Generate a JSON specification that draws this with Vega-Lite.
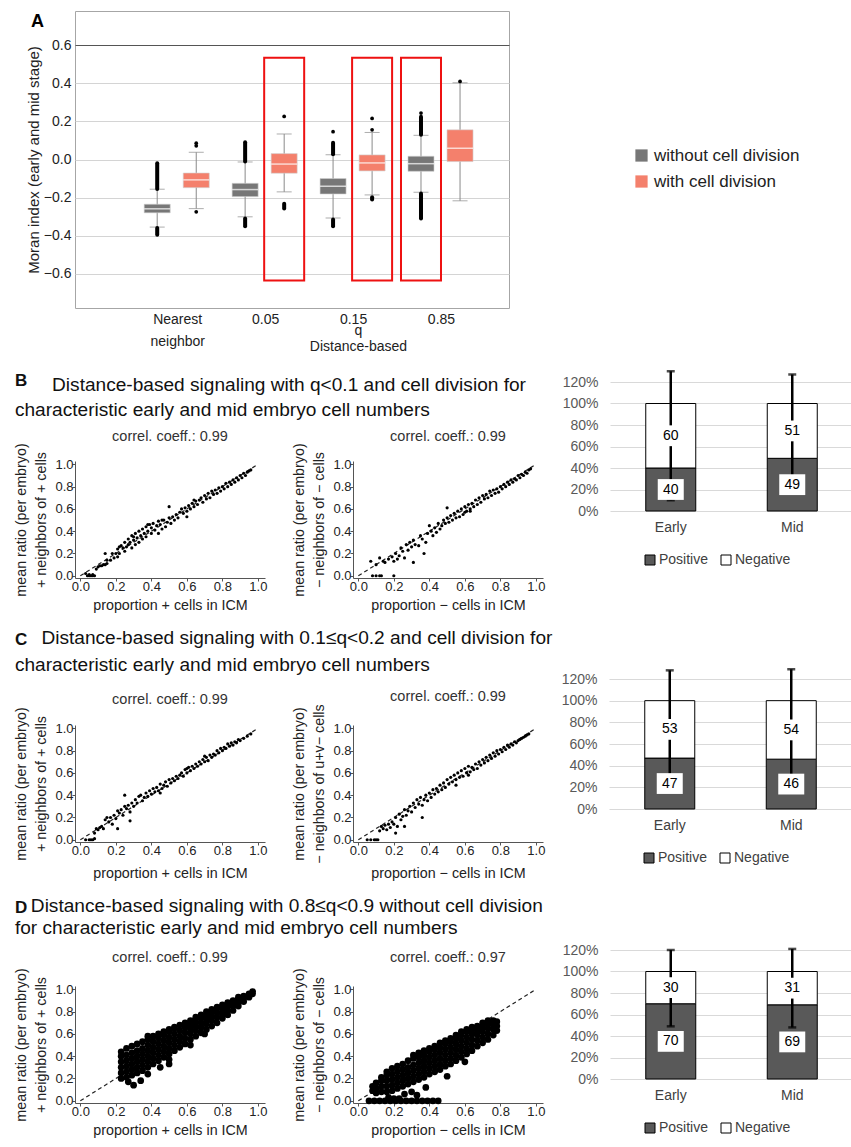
{
"$schema":"https://vega.github.io/schema/vega-lite/v6.json",
"background":"white",
"padding":{"left":14,"top":10,"right":0,"bottom":0},
"columns":1,"align":"none","spacing":16,
"resolve":{"scale":{"fill":"independent"},"legend":{"fill":"independent"}},
"config":{"font":"Liberation Sans","view":{"stroke":null},
 "axis":{"labelFontSize":13,"titleFontSize":14.3,"titleFontWeight":"normal","grid":false,"tickSize":3,"labelPadding":-1,"labelColor":"#222","titleColor":"#222","domainColor":"#555","tickColor":"#555","labelFlush":false,"labelOverlap":false},
 "title":{"fontWeight":"normal","color":"#111"}},
"datasets":{
"boxes":[
{"x":-0.222,"series":"without cell division","wlo":-0.355,"q1":-0.28,"med":-0.259,"q3":-0.235,"whi":-0.156},
{"x":0.222,"series":"with cell division","wlo":-0.258,"q1":-0.148,"med":-0.107,"q3":-0.071,"whi":0.038},
{"x":0.778,"series":"without cell division","wlo":-0.301,"q1":-0.195,"med":-0.158,"q3":-0.125,"whi":-0.013},
{"x":1.222,"series":"with cell division","wlo":-0.17,"q1":-0.072,"med":-0.024,"q3":0.031,"whi":0.134},
{"x":1.778,"series":"without cell division","wlo":-0.307,"q1":-0.181,"med":-0.141,"q3":-0.1,"whi":0.025},
{"x":2.222,"series":"with cell division","wlo":-0.186,"q1":-0.06,"med":-0.018,"q3":0.024,"whi":0.142},
{"x":2.778,"series":"without cell division","wlo":-0.172,"q1":-0.062,"med":-0.022,"q3":0.017,"whi":0.127},
{"x":3.222,"series":"with cell division","wlo":-0.217,"q1":-0.011,"med":0.059,"q3":0.156,"whi":0.403}],
"outr":[
{"x":-0.222,"lo":-0.155,"hi":-0.02},{"x":-0.222,"lo":-0.395,"hi":-0.36},
{"x":0.778,"lo":-0.01,"hi":0.09},{"x":0.778,"lo":-0.35,"hi":-0.31},
{"x":1.222,"lo":-0.258,"hi":-0.232},
{"x":1.778,"lo":0.028,"hi":0.088},{"x":1.778,"lo":-0.35,"hi":-0.315},
{"x":2.222,"lo":-0.21,"hi":-0.198},
{"x":2.778,"lo":0.13,"hi":0.225},{"x":2.778,"lo":-0.31,"hi":-0.178}],
"outp":[
{"x":0.222,"y":0.086},{"x":0.222,"y":0.072},{"x":0.222,"y":-0.275},{"x":1.222,"y":0.226},{"x":1.778,"y":0.146},
{"x":2.222,"y":0.216},{"x":2.222,"y":0.156},{"x":2.778,"y":0.244},{"x":3.222,"y":0.41}],
"hl":[{"x":1.222,"lo":-0.635,"hi":0.535},{"x":2.222,"lo":-0.635,"hi":0.535},{"x":2.778,"lo":-0.635,"hi":0.535}],
"b1":[{"x":0.04,"y":0},{"x":0.05,"y":0},{"x":0.06,"y":0},{"x":0.07,"y":0},{"x":0.08,"y":0},{"x":0.05,"y":0.01},{"x":0.07,"y":0.01},{"x":0.03,"y":0.02},
{"x":0.09,"y":0.06},{"x":0.1,"y":0.08},{"x":0.11,"y":0.09},{"x":0.12,"y":0.09},{"x":0.13,"y":0.1},{"x":0.14,"y":0.1},{"x":0.15,"y":0.11},{"x":0.15,"y":0.14},{"x":0.14,"y":0.2},{"x":0.17,"y":0.14},{"x":0.18,"y":0.2},{"x":0.19,"y":0.16},{"x":0.2,"y":0.2},{"x":0.21,"y":0.17},{"x":0.21,"y":0.24},{"x":0.22,"y":0.2},{"x":0.23,"y":0.27},{"x":0.24,"y":0.25},{"x":0.25,"y":0.22},{"x":0.25,"y":0.3},{"x":0.26,"y":0.26},{"x":0.27,"y":0.33},{"x":0.27,"y":0.28},{"x":0.28,"y":0.3},{"x":0.29,"y":0.25},{"x":0.29,"y":0.36},{"x":0.3,"y":0.32},{"x":0.31,"y":0.28},{"x":0.31,"y":0.38},{"x":0.32,"y":0.34},{"x":0.33,"y":0.3},{"x":0.33,"y":0.4},{"x":0.34,"y":0.36},{"x":0.35,"y":0.42},{"x":0.35,"y":0.33},{"x":0.36,"y":0.38},{"x":0.37,"y":0.44},{"x":0.37,"y":0.35},{"x":0.38,"y":0.4},{"x":0.39,"y":0.46},{"x":0.4,"y":0.38},{"x":0.4,"y":0.43},{"x":0.41,"y":0.47},{"x":0.42,"y":0.41},{"x":0.43,"y":0.45},{"x":0.44,"y":0.38},{"x":0.44,"y":0.49},{"x":0.45,"y":0.46},{"x":0.46,"y":0.42},{"x":0.47,"y":0.5},{"x":0.48,"y":0.44},{"x":0.49,"y":0.48},{"x":0.5,"y":0.52},{"x":0.5,"y":0.62},{"x":0.51,"y":0.47},{"x":0.52,"y":0.53},{"x":0.53,"y":0.5},{"x":0.54,"y":0.55},{"x":0.55,"y":0.52},{"x":0.56,"y":0.57},{"x":0.57,"y":0.6},{"x":0.58,"y":0.56},{"x":0.59,"y":0.61},{"x":0.6,"y":0.58},{"x":0.61,"y":0.63},{"x":0.62,"y":0.6},{"x":0.63,"y":0.65},{"x":0.64,"y":0.62},{"x":0.65,"y":0.67},{"x":0.66,"y":0.64},{"x":0.67,"y":0.68},{"x":0.68,"y":0.7},{"x":0.69,"y":0.66},{"x":0.7,"y":0.72},{"x":0.71,"y":0.69},{"x":0.72,"y":0.74},{"x":0.73,"y":0.7},{"x":0.74,"y":0.76},{"x":0.75,"y":0.73},{"x":0.76,"y":0.77},{"x":0.77,"y":0.74},{"x":0.78,"y":0.79},{"x":0.79,"y":0.76},{"x":0.8,"y":0.8},{"x":0.81,"y":0.78},{"x":0.82,"y":0.83},{"x":0.83,"y":0.8},{"x":0.84,"y":0.84},{"x":0.85,"y":0.82},{"x":0.86,"y":0.86},{"x":0.87,"y":0.84},{"x":0.88,"y":0.88},{"x":0.89,"y":0.86},{"x":0.9,"y":0.9},{"x":0.91,"y":0.88},{"x":0.92,"y":0.92},{"x":0.93,"y":0.9},{"x":0.94,"y":0.93},{"x":0.95,"y":0.94},{"x":0.96,"y":0.95},{"x":0.6,"y":0.53},{"x":0.64,"y":0.68},{"x":0.46,"y":0.5},{"x":0.38,"y":0.46},{"x":0.3,"y":0.35},{"x":0.22,"y":0.26}],
"b2":[{"x":0.08,"y":0},{"x":0.1,"y":0},{"x":0.12,"y":0},{"x":0.13,"y":0},{"x":0.2,"y":0},{"x":0.07,"y":0.13},{"x":0.1,"y":0.1},{"x":0.12,"y":0.16},{"x":0.14,"y":0.13},{"x":0.15,"y":0.12},{"x":0.17,"y":0.15},{"x":0.19,"y":0.17},{"x":0.2,"y":0.13},{"x":0.21,"y":0.2},{"x":0.22,"y":0.15},{"x":0.23,"y":0.18},{"x":0.24,"y":0.25},{"x":0.25,"y":0.22},{"x":0.26,"y":0.16},{"x":0.27,"y":0.28},{"x":0.28,"y":0.23},{"x":0.29,"y":0.3},{"x":0.3,"y":0.26},{"x":0.31,"y":0.12},{"x":0.31,"y":0.32},{"x":0.32,"y":0.28},{"x":0.34,"y":0.27},{"x":0.35,"y":0.36},{"x":0.36,"y":0.33},{"x":0.37,"y":0.2},{"x":0.38,"y":0.3},{"x":0.39,"y":0.38},{"x":0.4,"y":0.45},{"x":0.41,"y":0.4},{"x":0.42,"y":0.36},{"x":0.43,"y":0.43},{"x":0.44,"y":0.39},{"x":0.45,"y":0.47},{"x":0.46,"y":0.42},{"x":0.47,"y":0.45},{"x":0.48,"y":0.5},{"x":0.49,"y":0.47},{"x":0.5,"y":0.61},{"x":0.5,"y":0.52},{"x":0.51,"y":0.48},{"x":0.52,"y":0.54},{"x":0.53,"y":0.5},{"x":0.54,"y":0.56},{"x":0.55,"y":0.52},{"x":0.56,"y":0.58},{"x":0.57,"y":0.53},{"x":0.58,"y":0.6},{"x":0.59,"y":0.55},{"x":0.6,"y":0.62},{"x":0.61,"y":0.58},{"x":0.62,"y":0.64},{"x":0.63,"y":0.6},{"x":0.64,"y":0.65},{"x":0.65,"y":0.62},{"x":0.66,"y":0.68},{"x":0.67,"y":0.64},{"x":0.68,"y":0.7},{"x":0.69,"y":0.66},{"x":0.7,"y":0.72},{"x":0.71,"y":0.69},{"x":0.72,"y":0.73},{"x":0.73,"y":0.7},{"x":0.74,"y":0.76},{"x":0.75,"y":0.72},{"x":0.76,"y":0.77},{"x":0.77,"y":0.74},{"x":0.78,"y":0.78},{"x":0.79,"y":0.75},{"x":0.8,"y":0.8},{"x":0.81,"y":0.78},{"x":0.82,"y":0.82},{"x":0.83,"y":0.8},{"x":0.84,"y":0.84},{"x":0.85,"y":0.82},{"x":0.86,"y":0.86},{"x":0.87,"y":0.84},{"x":0.88,"y":0.87},{"x":0.89,"y":0.86},{"x":0.9,"y":0.9},{"x":0.91,"y":0.88},{"x":0.92,"y":0.91},{"x":0.93,"y":0.9},{"x":0.94,"y":0.93},{"x":0.95,"y":0.92},{"x":0.96,"y":0.95},{"x":0.97,"y":0.96},{"x":0.6,"y":0.57},{"x":0.63,"y":0.58}],
"c1":[{"x":0.03,"y":0},{"x":0.05,"y":0},{"x":0.06,"y":0},{"x":0.07,"y":0},{"x":0.08,"y":0.01},{"x":0.08,"y":0.06},{"x":0.09,"y":0.1},{"x":0.1,"y":0.09},{"x":0.11,"y":0.11},{"x":0.12,"y":0.12},{"x":0.13,"y":0.1},{"x":0.14,"y":0.18},{"x":0.15,"y":0.2},{"x":0.16,"y":0.16},{"x":0.17,"y":0.2},{"x":0.18,"y":0.14},{"x":0.19,"y":0.22},{"x":0.2,"y":0.19},{"x":0.21,"y":0.1},{"x":0.21,"y":0.26},{"x":0.22,"y":0.24},{"x":0.23,"y":0.27},{"x":0.24,"y":0.22},{"x":0.25,"y":0.3},{"x":0.25,"y":0.4},{"x":0.26,"y":0.28},{"x":0.27,"y":0.31},{"x":0.28,"y":0.25},{"x":0.28,"y":0.17},{"x":0.29,"y":0.33},{"x":0.3,"y":0.3},{"x":0.31,"y":0.36},{"x":0.32,"y":0.33},{"x":0.33,"y":0.39},{"x":0.34,"y":0.4},{"x":0.35,"y":0.35},{"x":0.36,"y":0.38},{"x":0.37,"y":0.42},{"x":0.38,"y":0.39},{"x":0.39,"y":0.44},{"x":0.4,"y":0.41},{"x":0.41,"y":0.46},{"x":0.42,"y":0.43},{"x":0.43,"y":0.47},{"x":0.44,"y":0.44},{"x":0.45,"y":0.5},{"x":0.46,"y":0.46},{"x":0.47,"y":0.49},{"x":0.48,"y":0.52},{"x":0.49,"y":0.48},{"x":0.5,"y":0.54},{"x":0.51,"y":0.51},{"x":0.52,"y":0.55},{"x":0.53,"y":0.53},{"x":0.54,"y":0.57},{"x":0.55,"y":0.55},{"x":0.56,"y":0.58},{"x":0.57,"y":0.6},{"x":0.58,"y":0.57},{"x":0.59,"y":0.63},{"x":0.6,"y":0.6},{"x":0.61,"y":0.65},{"x":0.62,"y":0.62},{"x":0.63,"y":0.66},{"x":0.64,"y":0.64},{"x":0.65,"y":0.68},{"x":0.66,"y":0.66},{"x":0.67,"y":0.7},{"x":0.68,"y":0.68},{"x":0.69,"y":0.72},{"x":0.7,"y":0.7},{"x":0.71,"y":0.74},{"x":0.72,"y":0.71},{"x":0.73,"y":0.76},{"x":0.74,"y":0.74},{"x":0.75,"y":0.77},{"x":0.76,"y":0.76},{"x":0.77,"y":0.8},{"x":0.78,"y":0.78},{"x":0.79,"y":0.82},{"x":0.8,"y":0.8},{"x":0.81,"y":0.83},{"x":0.82,"y":0.82},{"x":0.83,"y":0.86},{"x":0.84,"y":0.84},{"x":0.85,"y":0.87},{"x":0.86,"y":0.85},{"x":0.87,"y":0.88},{"x":0.88,"y":0.87},{"x":0.89,"y":0.9},{"x":0.9,"y":0.89},{"x":0.92,"y":0.91},{"x":0.94,"y":0.93},{"x":0.96,"y":0.95},{"x":0.45,"y":0.42},{"x":0.6,"y":0.64},{"x":0.7,"y":0.75}],
"c2":[{"x":0.05,"y":0},{"x":0.07,"y":0},{"x":0.09,"y":0},{"x":0.1,"y":0},{"x":0.11,"y":0},{"x":0.12,"y":0.08},{"x":0.13,"y":0.12},{"x":0.14,"y":0.1},{"x":0.15,"y":0.13},{"x":0.16,"y":0.09},{"x":0.17,"y":0.14},{"x":0.18,"y":0.11},{"x":0.19,"y":0.16},{"x":0.2,"y":0.14},{"x":0.21,"y":0.06},{"x":0.21,"y":0.2},{"x":0.22,"y":0.12},{"x":0.23,"y":0.23},{"x":0.24,"y":0.18},{"x":0.25,"y":0.21},{"x":0.26,"y":0.12},{"x":0.26,"y":0.27},{"x":0.27,"y":0.22},{"x":0.28,"y":0.26},{"x":0.29,"y":0.3},{"x":0.3,"y":0.25},{"x":0.31,"y":0.33},{"x":0.32,"y":0.29},{"x":0.33,"y":0.36},{"x":0.34,"y":0.32},{"x":0.35,"y":0.38},{"x":0.36,"y":0.31},{"x":0.36,"y":0.2},{"x":0.37,"y":0.36},{"x":0.38,"y":0.4},{"x":0.39,"y":0.35},{"x":0.4,"y":0.42},{"x":0.41,"y":0.38},{"x":0.42,"y":0.45},{"x":0.43,"y":0.41},{"x":0.44,"y":0.46},{"x":0.45,"y":0.43},{"x":0.46,"y":0.49},{"x":0.47,"y":0.45},{"x":0.48,"y":0.51},{"x":0.49,"y":0.47},{"x":0.5,"y":0.54},{"x":0.51,"y":0.5},{"x":0.52,"y":0.56},{"x":0.53,"y":0.52},{"x":0.54,"y":0.58},{"x":0.55,"y":0.54},{"x":0.56,"y":0.6},{"x":0.57,"y":0.56},{"x":0.58,"y":0.62},{"x":0.59,"y":0.57},{"x":0.6,"y":0.64},{"x":0.61,"y":0.6},{"x":0.62,"y":0.66},{"x":0.63,"y":0.61},{"x":0.64,"y":0.65},{"x":0.65,"y":0.63},{"x":0.66,"y":0.68},{"x":0.67,"y":0.64},{"x":0.68,"y":0.7},{"x":0.69,"y":0.67},{"x":0.7,"y":0.72},{"x":0.71,"y":0.69},{"x":0.72,"y":0.74},{"x":0.73,"y":0.71},{"x":0.74,"y":0.76},{"x":0.75,"y":0.73},{"x":0.76,"y":0.78},{"x":0.77,"y":0.75},{"x":0.78,"y":0.8},{"x":0.79,"y":0.77},{"x":0.8,"y":0.81},{"x":0.81,"y":0.79},{"x":0.82,"y":0.83},{"x":0.83,"y":0.81},{"x":0.84,"y":0.85},{"x":0.85,"y":0.83},{"x":0.86,"y":0.86},{"x":0.87,"y":0.85},{"x":0.88,"y":0.88},{"x":0.89,"y":0.87},{"x":0.9,"y":0.89},{"x":0.91,"y":0.9},{"x":0.92,"y":0.91},{"x":0.93,"y":0.92},{"x":0.94,"y":0.93},{"x":0.95,"y":0.94},{"x":0.96,"y":0.95},{"x":0.55,"y":0.49},{"x":0.62,"y":0.58}],
"d1":[{"x":0.23,"y":0.2},{"x":0.23,"y":0.25},{"x":0.23,"y":0.3},{"x":0.23,"y":0.35},{"x":0.23,"y":0.4},{"x":0.23,"y":0.44},
{"x":0.26,"y":0.21},{"x":0.26,"y":0.26},{"x":0.26,"y":0.31},{"x":0.26,"y":0.36},{"x":0.26,"y":0.41},{"x":0.26,"y":0.47},
{"x":0.29,"y":0.23},{"x":0.29,"y":0.28},{"x":0.29,"y":0.33},{"x":0.29,"y":0.38},{"x":0.29,"y":0.43},{"x":0.29,"y":0.49},
{"x":0.32,"y":0.25},{"x":0.32,"y":0.3},{"x":0.32,"y":0.35},{"x":0.32,"y":0.4},{"x":0.32,"y":0.45},{"x":0.32,"y":0.51},
{"x":0.35,"y":0.27},{"x":0.35,"y":0.32},{"x":0.35,"y":0.37},{"x":0.35,"y":0.42},{"x":0.35,"y":0.47},{"x":0.35,"y":0.53},
{"x":0.38,"y":0.3},{"x":0.38,"y":0.35},{"x":0.38,"y":0.4},{"x":0.38,"y":0.45},{"x":0.38,"y":0.5},{"x":0.38,"y":0.55},{"x":0.38,"y":0.58},
{"x":0.41,"y":0.33},{"x":0.41,"y":0.38},{"x":0.41,"y":0.43},{"x":0.41,"y":0.48},{"x":0.41,"y":0.53},{"x":0.41,"y":0.58},
{"x":0.44,"y":0.36},{"x":0.44,"y":0.41},{"x":0.44,"y":0.46},{"x":0.44,"y":0.51},{"x":0.44,"y":0.56},{"x":0.44,"y":0.6},
{"x":0.47,"y":0.39},{"x":0.47,"y":0.44},{"x":0.47,"y":0.49},{"x":0.47,"y":0.54},{"x":0.47,"y":0.59},{"x":0.47,"y":0.62},
{"x":0.5,"y":0.42},{"x":0.5,"y":0.47},{"x":0.5,"y":0.52},{"x":0.5,"y":0.57},{"x":0.5,"y":0.62},{"x":0.5,"y":0.64},
{"x":0.53,"y":0.45},{"x":0.53,"y":0.5},{"x":0.53,"y":0.55},{"x":0.53,"y":0.6},{"x":0.53,"y":0.65},{"x":0.53,"y":0.66},
{"x":0.56,"y":0.48},{"x":0.56,"y":0.53},{"x":0.56,"y":0.58},{"x":0.56,"y":0.63},{"x":0.56,"y":0.68},
{"x":0.59,"y":0.51},{"x":0.59,"y":0.56},{"x":0.59,"y":0.61},{"x":0.59,"y":0.66},{"x":0.59,"y":0.7},
{"x":0.62,"y":0.55},{"x":0.62,"y":0.6},{"x":0.62,"y":0.64},{"x":0.62,"y":0.68},{"x":0.62,"y":0.72},
{"x":0.65,"y":0.58},{"x":0.65,"y":0.63},{"x":0.65,"y":0.67},{"x":0.65,"y":0.71},{"x":0.65,"y":0.75},
{"x":0.68,"y":0.61},{"x":0.68,"y":0.66},{"x":0.68,"y":0.7},{"x":0.68,"y":0.74},{"x":0.68,"y":0.77},
{"x":0.71,"y":0.64},{"x":0.71,"y":0.69},{"x":0.71,"y":0.73},{"x":0.71,"y":0.77},{"x":0.71,"y":0.8},
{"x":0.74,"y":0.67},{"x":0.74,"y":0.72},{"x":0.74,"y":0.76},{"x":0.74,"y":0.8},{"x":0.74,"y":0.82},
{"x":0.77,"y":0.7},{"x":0.77,"y":0.75},{"x":0.77,"y":0.79},{"x":0.77,"y":0.83},{"x":0.77,"y":0.84},
{"x":0.8,"y":0.74},{"x":0.8,"y":0.78},{"x":0.8,"y":0.82},{"x":0.8,"y":0.86},
{"x":0.83,"y":0.77},{"x":0.83,"y":0.81},{"x":0.83,"y":0.85},{"x":0.83,"y":0.88},
{"x":0.86,"y":0.81},{"x":0.86,"y":0.85},{"x":0.86,"y":0.88},{"x":0.86,"y":0.9},
{"x":0.89,"y":0.85},{"x":0.89,"y":0.88},{"x":0.89,"y":0.91},{"x":0.89,"y":0.93},
{"x":0.92,"y":0.89},{"x":0.92,"y":0.92},{"x":0.92,"y":0.94},
{"x":0.95,"y":0.93},{"x":0.95,"y":0.95},{"x":0.95,"y":0.96},
{"x":0.97,"y":0.96},{"x":0.97,"y":0.98},
{"x":0.27,"y":0.17},{"x":0.3,"y":0.14},{"x":0.34,"y":0.18},{"x":0.38,"y":0.24},{"x":0.45,"y":0.3},{"x":0.5,"y":0.33},{"x":0.5,"y":0.37},{"x":0.62,"y":0.5},{"x":0.7,"y":0.6}],
"d2":[{"x":0.08,"y":0.09},{"x":0.08,"y":0.13},
{"x":0.1,"y":0.07},{"x":0.1,"y":0.11},{"x":0.1,"y":0.16},
{"x":0.13,"y":0.08},{"x":0.13,"y":0.13},{"x":0.13,"y":0.18},{"x":0.13,"y":0.21},
{"x":0.16,"y":0.08},{"x":0.16,"y":0.13},{"x":0.16,"y":0.18},{"x":0.16,"y":0.23},{"x":0.16,"y":0.26},
{"x":0.19,"y":0.09},{"x":0.19,"y":0.14},{"x":0.19,"y":0.19},{"x":0.19,"y":0.24},{"x":0.19,"y":0.29},
{"x":0.22,"y":0.11},{"x":0.22,"y":0.16},{"x":0.22,"y":0.21},{"x":0.22,"y":0.26},{"x":0.22,"y":0.31},
{"x":0.25,"y":0.13},{"x":0.25,"y":0.18},{"x":0.25,"y":0.23},{"x":0.25,"y":0.28},{"x":0.25,"y":0.33},
{"x":0.28,"y":0.15},{"x":0.28,"y":0.2},{"x":0.28,"y":0.25},{"x":0.28,"y":0.3},{"x":0.28,"y":0.36},
{"x":0.31,"y":0.17},{"x":0.31,"y":0.22},{"x":0.31,"y":0.27},{"x":0.31,"y":0.32},{"x":0.31,"y":0.38},{"x":0.31,"y":0.41},
{"x":0.34,"y":0.19},{"x":0.34,"y":0.24},{"x":0.34,"y":0.29},{"x":0.34,"y":0.34},{"x":0.34,"y":0.39},{"x":0.34,"y":0.43},
{"x":0.37,"y":0.21},{"x":0.37,"y":0.26},{"x":0.37,"y":0.31},{"x":0.37,"y":0.36},{"x":0.37,"y":0.41},{"x":0.37,"y":0.45},
{"x":0.4,"y":0.24},{"x":0.4,"y":0.29},{"x":0.4,"y":0.34},{"x":0.4,"y":0.39},{"x":0.4,"y":0.44},{"x":0.4,"y":0.47},
{"x":0.43,"y":0.26},{"x":0.43,"y":0.31},{"x":0.43,"y":0.36},{"x":0.43,"y":0.41},{"x":0.43,"y":0.46},{"x":0.43,"y":0.49},
{"x":0.46,"y":0.28},{"x":0.46,"y":0.33},{"x":0.46,"y":0.38},{"x":0.46,"y":0.43},{"x":0.46,"y":0.48},{"x":0.46,"y":0.52},
{"x":0.49,"y":0.31},{"x":0.49,"y":0.36},{"x":0.49,"y":0.41},{"x":0.49,"y":0.46},{"x":0.49,"y":0.51},{"x":0.49,"y":0.54},
{"x":0.52,"y":0.33},{"x":0.52,"y":0.38},{"x":0.52,"y":0.43},{"x":0.52,"y":0.48},{"x":0.52,"y":0.53},{"x":0.52,"y":0.56},
{"x":0.55,"y":0.36},{"x":0.55,"y":0.41},{"x":0.55,"y":0.46},{"x":0.55,"y":0.51},{"x":0.55,"y":0.56},{"x":0.55,"y":0.59},
{"x":0.58,"y":0.39},{"x":0.58,"y":0.44},{"x":0.58,"y":0.49},{"x":0.58,"y":0.54},{"x":0.58,"y":0.59},{"x":0.58,"y":0.62},
{"x":0.61,"y":0.42},{"x":0.61,"y":0.47},{"x":0.61,"y":0.52},{"x":0.61,"y":0.57},{"x":0.61,"y":0.62},{"x":0.61,"y":0.64},
{"x":0.64,"y":0.45},{"x":0.64,"y":0.5},{"x":0.64,"y":0.55},{"x":0.64,"y":0.6},{"x":0.64,"y":0.64},{"x":0.64,"y":0.66},
{"x":0.67,"y":0.49},{"x":0.67,"y":0.54},{"x":0.67,"y":0.59},{"x":0.67,"y":0.63},{"x":0.67,"y":0.67},
{"x":0.7,"y":0.52},{"x":0.7,"y":0.57},{"x":0.7,"y":0.62},{"x":0.7,"y":0.66},{"x":0.7,"y":0.7},
{"x":0.73,"y":0.55},{"x":0.73,"y":0.6},{"x":0.73,"y":0.65},{"x":0.73,"y":0.69},{"x":0.73,"y":0.72},
{"x":0.76,"y":0.59},{"x":0.76,"y":0.64},{"x":0.76,"y":0.68},{"x":0.76,"y":0.72},
{"x":0.78,"y":0.63},{"x":0.78,"y":0.67},{"x":0.78,"y":0.71},
{"x":0.06,"y":0},{"x":0.09,"y":0},{"x":0.12,"y":0},{"x":0.15,"y":0},{"x":0.18,"y":0},{"x":0.21,"y":0},{"x":0.24,"y":0},{"x":0.27,"y":0},{"x":0.3,"y":0},{"x":0.33,"y":0},{"x":0.36,"y":0},{"x":0.39,"y":0},{"x":0.42,"y":0},{"x":0.45,"y":0},
{"x":0.17,"y":0.03},{"x":0.2,"y":0.02},{"x":0.23,"y":0.02},{"x":0.26,"y":0.06},{"x":0.3,"y":0.08},{"x":0.33,"y":0.05},{"x":0.38,"y":0.12},{"x":0.5,"y":0.22},{"x":0.6,"y":0.35}],
"barB":[{"stage":"Early","cat":"Positive","value":40,"elo":10,"ehi":70},{"stage":"Early","cat":"Negative","value":60,"elo":70,"ehi":130},{"stage":"Mid","cat":"Positive","value":49,"elo":22,"ehi":76},{"stage":"Mid","cat":"Negative","value":51,"elo":73,"ehi":127}],
"barC":[{"stage":"Early","cat":"Positive","value":47,"elo":19,"ehi":75},{"stage":"Early","cat":"Negative","value":53,"elo":72,"ehi":128},{"stage":"Mid","cat":"Positive","value":46,"elo":17,"ehi":75},{"stage":"Mid","cat":"Negative","value":54,"elo":71,"ehi":129}],
"barD":[{"stage":"Early","cat":"Positive","value":70,"elo":49,"ehi":91},{"stage":"Early","cat":"Negative","value":30,"elo":80,"ehi":120},{"stage":"Mid","cat":"Positive","value":69,"elo":48,"ehi":90},{"stage":"Mid","cat":"Negative","value":31,"elo":79,"ehi":121}]
},
"concat":[
 {"width":434,"height":297,
  "view":{"stroke":"#a6a6a6"},
  "title":{"text":"A","fontSize":18,"fontWeight":"bold","anchor":"start","frame":"group","dx":-44,"offset":-20,"color":"black"},
  "encoding":{"x":{"field":"x","type":"quantitative","scale":{"domain":[-1.1,3.722],"nice":false,"zero":false},
    "axis":{"values":[-0.222,0.222,0.778,1.222,1.778,2.222,2.778,3.222],
     "labelExpr":"datum.value < 0 ? ['Nearest','neighbor'] : (datum.value > 0.7 && datum.value < 0.8) ? '0.05' : (datum.value > 1.7 && datum.value < 1.8) ? '0.15' : (datum.value > 2.7 && datum.value < 2.8) ? '0.85' : ''",
     "labelOffset":20,"labelFontSize":14,"labelLineHeight":22,"labelPadding":4,"ticks":false,"domain":false,"grid":false,
     "title":["q","Distance-based"],"titleFontSize":14,"titleLineHeight":16,"titleX":283,"titleY":15,"titleBaseline":"top"}}},
  "layer":[
   {"data":{"name":"hl"},"mark":{"type":"bar","orient":"vertical","size":40,"fill":"transparent","stroke":"#ee1111","strokeWidth":2},
    "encoding":{"y":{"field":"lo","type":"quantitative","scale":{"domain":[-0.78,0.78],"nice":false,"zero":false},
      "axis":{"values":[-0.6,-0.4,-0.2,0,0.2,0.4,0.6],"format":".1f","grid":true,"gridColor":{"condition":{"test":"datum.value > 0.5","value":"#555555"},"value":"#d4d4d4"},"domain":false,"ticks":false,"labelFontSize":14,"labelPadding":4,"title":"Moran index (early and mid stage)","titleFontSize":15,"titlePadding":2}},
     "y2":{"field":"hi"}}},
   {"data":{"name":"boxes"},"mark":{"type":"rule","color":"#8a8a8a","strokeWidth":1},
    "encoding":{"y":{"field":"wlo","type":"quantitative","scale":{"domain":[-0.78,0.78]}},"y2":{"field":"whi"}}},
   {"data":{"name":"boxes"},"mark":{"type":"tick","orient":"horizontal","size":15,"thickness":1,"color":"#8a8a8a"},
    "encoding":{"y":{"field":"whi","type":"quantitative","scale":{"domain":[-0.78,0.78]}}}},
   {"data":{"name":"boxes"},"mark":{"type":"tick","orient":"horizontal","size":15,"thickness":1,"color":"#8a8a8a"},
    "encoding":{"y":{"field":"wlo","type":"quantitative","scale":{"domain":[-0.78,0.78]}}}},
   {"data":{"name":"outr"},"mark":{"type":"rule","color":"black","strokeWidth":4,"strokeCap":"round"},
    "encoding":{"y":{"field":"lo","type":"quantitative","scale":{"domain":[-0.78,0.78]}},"y2":{"field":"hi"}}},
   {"data":{"name":"outp"},"mark":{"type":"circle","size":14,"color":"black","opacity":1},
    "encoding":{"y":{"field":"y","type":"quantitative","scale":{"domain":[-0.78,0.78]}}}},
   {"data":{"name":"boxes"},"mark":{"type":"bar","orient":"vertical","size":26,"stroke":"#d0d0d0","strokeWidth":0.6},
    "encoding":{"y":{"field":"q1","type":"quantitative","scale":{"domain":[-0.78,0.78]}},"y2":{"field":"q3"},
     "fill":{"field":"series","type":"nominal","scale":{"domain":["without cell division","with cell division"],"range":["#777777","#f4806c"]},
      "legend":{"orient":"none","legendX":558,"legendY":136,"direction":"vertical","title":null,"labelFontSize":17,"labelColor":"#222","symbolType":"square","symbolSize":150,"symbolStrokeWidth":0,"rowPadding":8}}}},
   {"data":{"name":"boxes"},"mark":{"type":"tick","orient":"horizontal","size":26,"thickness":1.5,"color":"white"},
    "encoding":{"y":{"field":"med","type":"quantitative","scale":{"domain":[-0.78,0.78]}}}}
  ]},
{"concat":[
 {"hconcat":[
  {"width":190,"height":117,
   "title":{"text":"correl. coeff.: 0.99","fontSize":14.5,"offset":-2,"color":"#333","anchor":"middle"},
   "encoding":{"x":{"field":"x","type":"quantitative","scale":{"domain":[-0.03,1.04],"nice":false,"zero":false},"axis":{"values":[0,0.2,0.4,0.6,0.8,1],"format":".1f","title":"proportion + cells in ICM","titlePadding":5}},
    "y":{"field":"y","type":"quantitative","scale":{"domain":[-0.02,1.03],"nice":false,"zero":false},"axis":{"values":[0,0.2,0.4,0.6,0.8,1],"format":".1f","title":["mean ratio (per embryo)","+ neighbors of + cells"],"titleLineHeight":20,"titlePadding":6}}},
   "layer":[
    {"data":{"values":[{"x":0,"y":0},{"x":1,"y":1}]},"mark":{"type":"line","color":"#222","strokeDash":[4,3],"strokeWidth":1.2},"encoding":{}},
    {"data":{"name":"b1"},"mark":{"type":"circle","size":10,"color":"black","opacity":1}}]},
  {"width":190,"height":117,
   "title":{"text":"correl. coeff.: 0.99","fontSize":14.5,"offset":-2,"color":"#333","anchor":"middle"},
   "encoding":{"x":{"field":"x","type":"quantitative","scale":{"domain":[-0.03,1.04],"nice":false,"zero":false},"axis":{"values":[0,0.2,0.4,0.6,0.8,1],"format":".1f","title":"proportion − cells in ICM","titlePadding":5}},
    "y":{"field":"y","type":"quantitative","scale":{"domain":[-0.02,1.03],"nice":false,"zero":false},"axis":{"values":[0,0.2,0.4,0.6,0.8,1],"format":".1f","title":["mean ratio (per embryo)","− neighbors of − cells"],"titleLineHeight":20,"titlePadding":6}}},
   "layer":[
    {"data":{"values":[{"x":0,"y":0},{"x":1,"y":1}]},"mark":{"type":"line","color":"#222","strokeDash":[4,3],"strokeWidth":1.2},"encoding":{}},
    {"data":{"name":"b2"},"mark":{"type":"circle","size":10,"color":"black","opacity":1}}]}
 ],"spacing":25,
 "title":{"text":["\u200b\u00a0\u00a0\u00a0\u00a0\u00a0\u00a0\u00a0Distance-based signaling with q<0.1 and cell division for","characteristic early and mid embryo cell numbers"],"anchor":"start","fontSize":19.1,"lineHeight":25,"offset":9}},
 {"width":243,"height":50,"data":{"name":"barB"},
  "encoding":{"x":{"field":"stage","type":"nominal","sort":["Early","Mid"],"title":null,"axis":{"labelAngle":0,"labelFontSize":14,"labelColor":"#404040","ticks":false,"domain":false,"labelPadding":9}}},
  "layer":[
   {"mark":{"type":"bar","size":50,"stroke":"black","strokeWidth":1},
    "encoding":{"y":{"field":"value","type":"quantitative","stack":"zero","title":null,"scale":{"domain":[0,120],"range":[50,-79]},"axis":{"values":[0,20,40,60,80,100,120],"tickCount":12,"labelExpr":"datum.value + '%'","grid":true,"gridColor":"#d9d9d9","domain":false,"ticks":false,"labelFontSize":14,"labelColor":"#595959","labelPadding":12}},
     "fill":{"field":"cat","type":"nominal","scale":{"domain":["Positive","Negative"],"range":["#595959","#ffffff"]},"legend":{"orient":"none","legendX":33,"legendY":92,"direction":"horizontal","title":null,"labelFontSize":14,"labelColor":"#404040","symbolType":"square","symbolSize":100,"symbolStrokeColor":"black","symbolStrokeWidth":1,"columnPadding":10,"labelOffset":2}},
     "order":{"field":"cat","sort":"descending"}}},
   {"mark":{"type":"rule","strokeWidth":2.5,"color":"black"},"encoding":{"y":{"field":"elo","type":"quantitative","scale":{"domain":[0,120],"range":[50,-79]}},"y2":{"field":"ehi"}}},
   {"mark":{"type":"tick","orient":"horizontal","size":8,"thickness":2.5,"color":"black"},"encoding":{"y":{"field":"ehi","type":"quantitative","scale":{"domain":[0,120],"range":[50,-79]}}}},
   {"mark":{"type":"tick","orient":"horizontal","size":8,"thickness":2.5,"color":"black"},"encoding":{"y":{"field":"elo","type":"quantitative","scale":{"domain":[0,120],"range":[50,-79]}}}},
   {"mark":{"type":"point","shape":"M-1,-0.8L1,-0.8L1,0.8L-1,0.8Z","size":676,"filled":true,"color":"white","opacity":1,"strokeWidth":0},"encoding":{"y":{"field":"value","type":"quantitative","stack":"zero","bandPosition":0.5,"scale":{"domain":[0,120],"range":[50,-79]}},"order":{"field":"cat","sort":"descending"}}},
   {"mark":{"type":"text","fontSize":14,"color":"black"},"encoding":{"y":{"field":"value","type":"quantitative","stack":"zero","bandPosition":0.5,"scale":{"domain":[0,120],"range":[50,-79]}},"order":{"field":"cat","sort":"descending"},"text":{"field":"value","type":"quantitative"}}}
  ]}
],"columns":2,"align":"none","spacing":17,
"resolve":{"scale":{"fill":"independent"},"legend":{"fill":"independent"}},
"title":{"text":"B","fontSize":17,"fontWeight":"bold","anchor":"start","offset":-20,"color":"#111"}},
{"concat":[
 {"hconcat":[
  {"width":190,"height":117,
   "title":{"text":"correl. coeff.: 0.99","fontSize":14.5,"offset":-1,"color":"#333","anchor":"middle"},
   "encoding":{"x":{"field":"x","type":"quantitative","scale":{"domain":[-0.03,1.04],"nice":false,"zero":false},"axis":{"values":[0,0.2,0.4,0.6,0.8,1],"format":".1f","title":"proportion + cells in ICM","titlePadding":9}},
    "y":{"field":"y","type":"quantitative","scale":{"domain":[-0.02,1.03],"nice":false,"zero":false},"axis":{"values":[0,0.2,0.4,0.6,0.8,1],"format":".1f","title":["mean ratio (per embryo)","+ neighbors of + cells"],"titleLineHeight":20,"titlePadding":6}}},
   "layer":[
    {"data":{"values":[{"x":0,"y":0},{"x":1,"y":1}]},"mark":{"type":"line","color":"#222","strokeDash":[4,3],"strokeWidth":1.2},"encoding":{}},
    {"data":{"name":"c1"},"mark":{"type":"circle","size":10,"color":"black","opacity":1}}]},
  {"width":190,"height":117,
   "title":{"text":"correl. coeff.: 0.99","fontSize":14.5,"offset":-1,"color":"#333","anchor":"middle"},
   "encoding":{"x":{"field":"x","type":"quantitative","scale":{"domain":[-0.03,1.04],"nice":false,"zero":false},"axis":{"values":[0,0.2,0.4,0.6,0.8,1],"format":".1f","title":"proportion − cells in ICM","titlePadding":9}},
    "y":{"field":"y","type":"quantitative","scale":{"domain":[-0.02,1.03],"nice":false,"zero":false},"axis":{"values":[0,0.2,0.4,0.6,0.8,1],"format":".1f","title":["mean ratio (per embryo)","− neighbors of u+v− cells"],"titleLineHeight":20,"titlePadding":6}}},
   "layer":[
    {"data":{"values":[{"x":0,"y":0},{"x":1,"y":1}]},"mark":{"type":"line","color":"#222","strokeDash":[4,3],"strokeWidth":1.2},"encoding":{}},
    {"data":{"name":"c2"},"mark":{"type":"circle","size":10,"color":"black","opacity":1}}]}
 ],"spacing":25,
 "title":{"text":["\u200b\u00a0\u00a0\u00a0\u00a0\u00a0Distance-based signaling with 0.1≤q<0.2 and cell division for","characteristic early and mid embryo cell numbers"],"anchor":"start","fontSize":19.1,"lineHeight":27,"offset":14}},
 {"width":243,"height":84,"data":{"name":"barC"},
  "encoding":{"x":{"field":"stage","type":"nominal","sort":["Early","Mid"],"title":null,"axis":{"labelAngle":0,"labelFontSize":14,"labelColor":"#404040","ticks":false,"domain":false,"labelPadding":9}}},
  "layer":[
   {"mark":{"type":"bar","size":50,"stroke":"black","strokeWidth":1},
    "encoding":{"y":{"field":"value","type":"quantitative","stack":"zero","title":null,"scale":{"domain":[0,120],"range":[84,-46]},"axis":{"values":[0,20,40,60,80,100,120],"tickCount":12,"labelExpr":"datum.value + '%'","grid":true,"gridColor":"#d9d9d9","domain":false,"ticks":false,"labelFontSize":14,"labelColor":"#595959","labelPadding":12}},
     "fill":{"field":"cat","type":"nominal","scale":{"domain":["Positive","Negative"],"range":["#595959","#ffffff"]},"legend":{"orient":"none","legendX":33,"legendY":126,"direction":"horizontal","title":null,"labelFontSize":14,"labelColor":"#404040","symbolType":"square","symbolSize":100,"symbolStrokeColor":"black","symbolStrokeWidth":1,"columnPadding":10,"labelOffset":2}},
     "order":{"field":"cat","sort":"descending"}}},
   {"mark":{"type":"rule","strokeWidth":2.5,"color":"black"},"encoding":{"y":{"field":"elo","type":"quantitative","scale":{"domain":[0,120],"range":[84,-46]}},"y2":{"field":"ehi"}}},
   {"mark":{"type":"tick","orient":"horizontal","size":8,"thickness":2.5,"color":"black"},"encoding":{"y":{"field":"ehi","type":"quantitative","scale":{"domain":[0,120],"range":[84,-46]}}}},
   {"mark":{"type":"tick","orient":"horizontal","size":8,"thickness":2.5,"color":"black"},"encoding":{"y":{"field":"elo","type":"quantitative","scale":{"domain":[0,120],"range":[84,-46]}}}},
   {"mark":{"type":"point","shape":"M-1,-0.8L1,-0.8L1,0.8L-1,0.8Z","size":676,"filled":true,"color":"white","opacity":1,"strokeWidth":0},"encoding":{"y":{"field":"value","type":"quantitative","stack":"zero","bandPosition":0.5,"scale":{"domain":[0,120],"range":[84,-46]}},"order":{"field":"cat","sort":"descending"}}},
   {"mark":{"type":"text","fontSize":14,"color":"black"},"encoding":{"y":{"field":"value","type":"quantitative","stack":"zero","bandPosition":0.5,"scale":{"domain":[0,120],"range":[84,-46]}},"order":{"field":"cat","sort":"descending"},"text":{"field":"value","type":"quantitative"}}}
  ]}
],"columns":2,"align":"none","spacing":8,
"resolve":{"scale":{"fill":"independent"},"legend":{"fill":"independent"}},
"title":{"text":"C","fontSize":17,"fontWeight":"bold","anchor":"start","offset":-20,"color":"#111"}},
{"concat":[
 {"hconcat":[
  {"width":190,"height":117,
   "title":{"text":"correl. coeff.: 0.99","fontSize":14.5,"offset":2,"color":"#333","anchor":"middle"},
   "encoding":{"x":{"field":"x","type":"quantitative","scale":{"domain":[-0.03,1.04],"nice":false,"zero":false},"axis":{"values":[0,0.2,0.4,0.6,0.8,1],"format":".1f","title":"proportion + cells in ICM","titlePadding":5}},
    "y":{"field":"y","type":"quantitative","scale":{"domain":[-0.02,1.03],"nice":false,"zero":false},"axis":{"values":[0,0.2,0.4,0.6,0.8,1],"format":".1f","title":["mean ratio (per embryo)","+ neighbors of + cells"],"titleLineHeight":20,"titlePadding":6}}},
   "layer":[
    {"data":{"values":[{"x":0,"y":0},{"x":1,"y":1}]},"mark":{"type":"line","color":"#222","strokeDash":[4,3],"strokeWidth":1.2},"encoding":{}},
    {"data":{"name":"d1"},"mark":{"type":"circle","size":45,"color":"black","opacity":1}}]},
  {"width":190,"height":117,
   "title":{"text":"correl. coeff.: 0.97","fontSize":14.5,"offset":2,"color":"#333","anchor":"middle"},
   "encoding":{"x":{"field":"x","type":"quantitative","scale":{"domain":[-0.03,1.04],"nice":false,"zero":false},"axis":{"values":[0,0.2,0.4,0.6,0.8,1],"format":".1f","title":"proportion − cells in ICM","titlePadding":5}},
    "y":{"field":"y","type":"quantitative","scale":{"domain":[-0.02,1.03],"nice":false,"zero":false},"axis":{"values":[0,0.2,0.4,0.6,0.8,1],"format":".1f","title":["mean ratio (per embryo)","− neighbors of − cells"],"titleLineHeight":20,"titlePadding":6}}},
   "layer":[
    {"data":{"values":[{"x":0,"y":0},{"x":1,"y":1}]},"mark":{"type":"line","color":"#222","strokeDash":[4,3],"strokeWidth":1.2},"encoding":{}},
    {"data":{"name":"d2"},"mark":{"type":"circle","size":45,"color":"black","opacity":1}}]}
 ],"spacing":25,
 "title":{"text":["\u200b\u00a0\u00a0\u00a0Distance-based signaling with 0.8≤q<0.9 without cell division","for characteristic early and mid embryo cell numbers"],"anchor":"start","fontSize":19.1,"lineHeight":22,"offset":12}},
 {"width":243,"height":93,"data":{"name":"barD"},
  "encoding":{"x":{"field":"stage","type":"nominal","sort":["Early","Mid"],"title":null,"axis":{"labelAngle":0,"labelFontSize":14,"labelColor":"#404040","ticks":false,"domain":false,"labelPadding":9}}},
  "layer":[
   {"mark":{"type":"bar","size":50,"stroke":"black","strokeWidth":1},
    "encoding":{"y":{"field":"value","type":"quantitative","stack":"zero","title":null,"scale":{"domain":[0,120],"range":[93,-36]},"axis":{"values":[0,20,40,60,80,100,120],"tickCount":12,"labelExpr":"datum.value + '%'","grid":true,"gridColor":"#d9d9d9","domain":false,"ticks":false,"labelFontSize":14,"labelColor":"#595959","labelPadding":12}},
     "fill":{"field":"cat","type":"nominal","scale":{"domain":["Positive","Negative"],"range":["#595959","#ffffff"]},"legend":{"orient":"none","legendX":33,"legendY":135,"direction":"horizontal","title":null,"labelFontSize":14,"labelColor":"#404040","symbolType":"square","symbolSize":100,"symbolStrokeColor":"black","symbolStrokeWidth":1,"columnPadding":10,"labelOffset":2}},
     "order":{"field":"cat","sort":"descending"}}},
   {"mark":{"type":"rule","strokeWidth":2.5,"color":"black"},"encoding":{"y":{"field":"elo","type":"quantitative","scale":{"domain":[0,120],"range":[93,-36]}},"y2":{"field":"ehi"}}},
   {"mark":{"type":"tick","orient":"horizontal","size":8,"thickness":2.5,"color":"black"},"encoding":{"y":{"field":"ehi","type":"quantitative","scale":{"domain":[0,120],"range":[93,-36]}}}},
   {"mark":{"type":"tick","orient":"horizontal","size":8,"thickness":2.5,"color":"black"},"encoding":{"y":{"field":"elo","type":"quantitative","scale":{"domain":[0,120],"range":[93,-36]}}}},
   {"mark":{"type":"point","shape":"M-1,-0.8L1,-0.8L1,0.8L-1,0.8Z","size":676,"filled":true,"color":"white","opacity":1,"strokeWidth":0},"encoding":{"y":{"field":"value","type":"quantitative","stack":"zero","bandPosition":0.5,"scale":{"domain":[0,120],"range":[93,-36]}},"order":{"field":"cat","sort":"descending"}}},
   {"mark":{"type":"text","fontSize":14,"color":"black"},"encoding":{"y":{"field":"value","type":"quantitative","stack":"zero","bandPosition":0.5,"scale":{"domain":[0,120],"range":[93,-36]}},"order":{"field":"cat","sort":"descending"},"text":{"field":"value","type":"quantitative"}}}
  ]}
],"columns":2,"align":"none","spacing":17,
"resolve":{"scale":{"fill":"independent"},"legend":{"fill":"independent"}},
"title":{"text":"D","fontSize":17,"fontWeight":"bold","anchor":"start","offset":-20,"color":"#111"}}
]
}
